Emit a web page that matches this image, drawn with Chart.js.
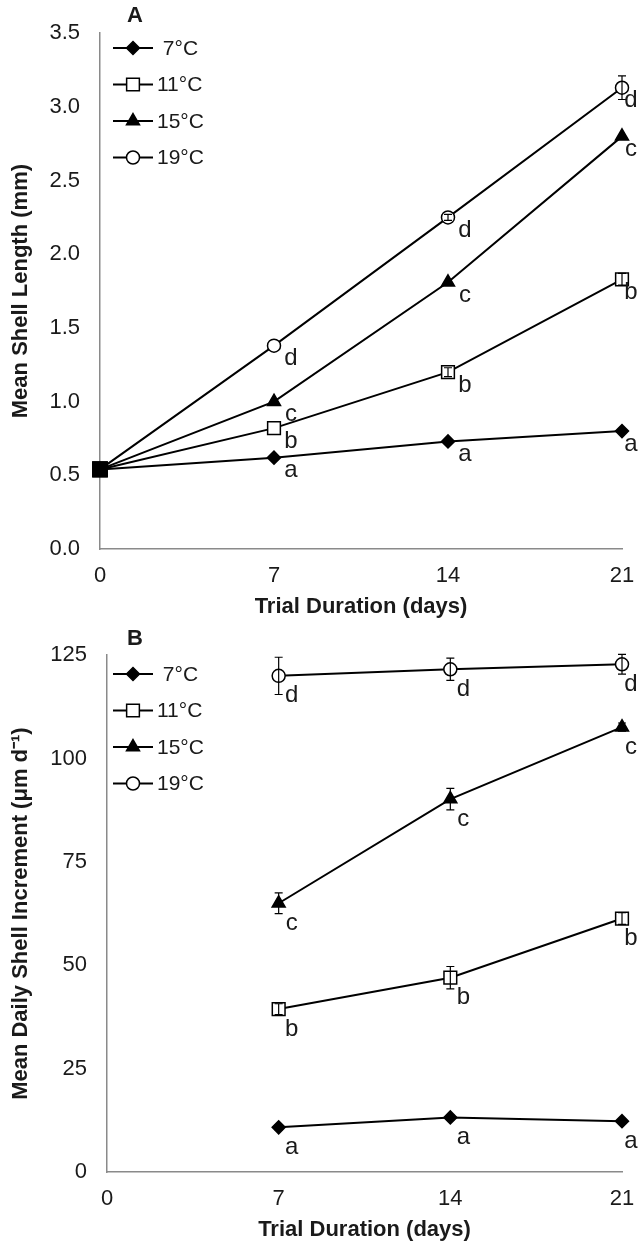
<!DOCTYPE html>
<html lang="en">
<head>
  <meta charset="UTF-8" />
  <title>Shell growth by temperature</title>
  <script src="https://cdn.jsdelivr.net/npm/chart.js"></script>
  <style>
    html, body { margin: 0; padding: 0; background: #fff; }
    canvas { display: block; }
  </style>
</head>
<body>
  <canvas id="lengthChart" width="640" height="622"></canvas>
  <canvas id="incChart" width="640" height="623"></canvas>

  <script>
    // panel A - mean shell length (mm)
    const daysA = [0, 7, 14, 21];
    const lenT7 = [0.54, 0.62, 0.73, 0.80];
    const lenT11 = [0.54, 0.82, 1.20, 1.83];
    const lenT15 = [0.54, 1.00, 1.81, 2.80];
    const lenT19 = [0.54, 1.38, 2.25, 3.13];
    const lenErrT7 = [0, 0, 0, 0];
    const lenErrT11 = [0, 0, 0.03, 0.04];
    const lenErrT15 = [0, 0, 0, 0];
    const lenErrT19 = [0, 0, 0.02, 0.08];
    const lenLetT7 = ['', 'a', 'a', 'a'];
    const lenLetT11 = ['', 'b', 'b', 'b'];
    const lenLetT15 = ['', 'c', 'c', 'c'];
    const lenLetT19 = ['', 'd', 'd', 'd'];
    const lenTicks = [0, 0.5, 1.0, 1.5, 2.0, 2.5, 3.0, 3.5];

    // panel B - mean daily shell increment (um/day)
    const daysB = [7, 14, 21];
    const incT7 = [10.8, 13.2, 12.3];
    const incT11 = [39.4, 47.0, 61.3];
    const incT15 = [65.0, 90.2, 107.6];
    const incT19 = [120.0, 121.6, 122.8];
    const incErrT7 = [0.6, 0.6, 0.5];
    const incErrT11 = [1.3, 2.7, 1.4];
    const incErrT15 = [2.5, 2.6, 1.0];
    const incErrT19 = [4.5, 2.7, 2.4];
    const incLetT7 = ['a', 'a', 'a'];
    const incLetT11 = ['b', 'b', 'b'];
    const incLetT15 = ['c', 'c', 'c'];
    const incLetT19 = ['d', 'd', 'd'];
    const incTicks = [0, 25, 50, 75, 100, 125];

    const seriesNames = [' 7°C', '11°C', '15°C', '19°C'];
    const dayTicks = [0, 7, 14, 21];

    const FONT = "'Liberation Sans', Arial, sans-serif";
    const INK = '#1a1a1a';
    const AXIS = '#8a8a8a';

    // marker look per temperature
    const markers = [
      { style: 'rectRot', radius: 6.5, fill: '#000' },
      { style: 'rect', radius: 9, fill: '#fff' },
      { style: 'triangle', radius: 7.5, fill: '#000' },
      { style: 'circle', radius: 6.5, fill: '#fff' }
    ];

    function pts(xs, ys) {
      return xs.map((x, i) => ({ x, y: ys[i] }));
    }

    function makeDataset(i, xs, ys, errs, letters, firstIsStart) {
      const m = markers[i];
      const n = xs.length;
      const style = [], radius = [], fill = [];
      for (let k = 0; k < n; k++) {
        if (firstIsStart && k === 0) {
          style.push('rect'); radius.push(10); fill.push('#000');
        } else {
          style.push(m.style); radius.push(m.radius); fill.push(m.fill);
        }
      }
      return {
        label: seriesNames[i],
        data: pts(xs, ys),
        errors: errs,
        letters: letters,
        borderColor: '#000',
        borderWidth: 2,
        pointStyle: style,
        pointRadius: radius,
        pointHoverRadius: radius,
        pointBackgroundColor: fill,
        pointBorderColor: '#000',
        pointBorderWidth: 1.5,
        tension: 0,
        clip: false
      };
    }

    function drawMarker(ctx, m, x, y) {
      const r = m.radius;
      ctx.beginPath();
      if (m.style === 'rectRot') {
        ctx.moveTo(x, y - r); ctx.lineTo(x + r, y); ctx.lineTo(x, y + r); ctx.lineTo(x - r, y);
        ctx.closePath();
      } else if (m.style === 'rect') {
        const s = r * Math.SQRT1_2;
        ctx.rect(x - s, y - s, 2 * s, 2 * s);
      } else if (m.style === 'triangle') {
        ctx.moveTo(x, y - r);
        ctx.lineTo(x + r * Math.sin(Math.PI * 2 / 3), y - r * Math.cos(Math.PI * 2 / 3));
        ctx.lineTo(x + r * Math.sin(Math.PI * 4 / 3), y - r * Math.cos(Math.PI * 4 / 3));
        ctx.closePath();
      } else {
        ctx.arc(x, y, r, 0, Math.PI * 2);
      }
      ctx.fillStyle = m.fill;
      ctx.fill();
      ctx.lineWidth = 1.5;
      ctx.strokeStyle = '#000';
      ctx.stroke();
    }

    // error bars, significance letters, legend and panel letter
    const extras = {
      id: 'extras',
      afterDatasetsDraw(chart, args, opts) {
        const ctx = chart.ctx;
        const xs = chart.scales.x, ys = chart.scales.y;
        ctx.save();
        chart.data.datasets.forEach(ds => {
          ds.data.forEach((p, k) => {
            const e = ds.errors[k];
            if (!e) return;
            const px = xs.getPixelForValue(p.x);
            const y1 = ys.getPixelForValue(p.y + e);
            const y2 = ys.getPixelForValue(p.y - e);
            ctx.strokeStyle = '#000';
            ctx.lineWidth = 1.2;
            ctx.beginPath();
            ctx.moveTo(px, y1); ctx.lineTo(px, y2);
            ctx.moveTo(px - 4, y1); ctx.lineTo(px + 4, y1);
            ctx.moveTo(px - 4, y2); ctx.lineTo(px + 4, y2);
            ctx.stroke();
          });
        });

        ctx.font = '24px ' + FONT;
        ctx.fillStyle = INK;
        ctx.textAlign = 'center';
        ctx.textBaseline = 'middle';
        chart.data.datasets.forEach(ds => {
          ds.data.forEach((p, k) => {
            const t = ds.letters[k];
            if (!t) return;
            const px = xs.getPixelForValue(p.x);
            const py = ys.getPixelForValue(p.y);
            // keep letters at the right edge inside the canvas
            const tx = Math.min(px + opts.dx, chart.width - 9);
            ctx.fillText(t, tx, py + opts.dy);
          });
        });

        // panel letter
        ctx.font = 'bold 22px ' + FONT;
        ctx.fillStyle = INK;
        ctx.fillText(opts.panel, opts.legendX + 22, opts.panelY);

        // legend
        ctx.font = '21px ' + FONT;
        ctx.textAlign = 'left';
        chart.data.datasets.forEach((ds, i) => {
          const y = opts.legendY + i * opts.legendGap;
          const x0 = opts.legendX;
          ctx.strokeStyle = '#000';
          ctx.lineWidth = 2;
          ctx.beginPath();
          ctx.moveTo(x0, y); ctx.lineTo(x0 + 40, y);
          ctx.stroke();
          drawMarker(ctx, markers[i], x0 + 20, y);
          ctx.fillStyle = INK;
          ctx.fillText(ds.label, x0 + 44, y + 1);
        });
        ctx.restore();
      }
    };

    function axisOptions(yMin, yMax, yTicks, yTitle, yDecimals, leftWidth) {
      return {
        x: {
          type: 'linear', min: 0, max: 21,
          afterBuildTicks: s => { s.ticks = dayTicks.map(v => ({ value: v })); },
          ticks: { color: INK, font: { family: FONT, size: 22 }, padding: 14 },
          grid: { display: true, drawOnChartArea: false, drawTicks: false },
          border: { color: AXIS, width: 1.5 },
          title: {
            display: true, text: 'Trial Duration (days)', color: INK,
            font: { family: FONT, size: 22, weight: 'bold' },
            padding: { top: 0, bottom: 2 }
          },
          afterFit: s => { s.height = 73; s.paddingLeft = 0; s.paddingRight = 0; }
        },
        y: {
          type: 'linear', min: yMin, max: yMax,
          afterBuildTicks: s => { s.ticks = yTicks.map(v => ({ value: v })); },
          ticks: {
            color: INK, font: { family: FONT, size: 22 }, padding: 20,
            callback: v => v.toFixed(yDecimals)
          },
          grid: { display: true, drawOnChartArea: false, drawTicks: false },
          border: { color: AXIS, width: 1.5 },
          title: {
            display: true, text: yTitle, color: INK,
            font: { family: FONT, size: 22, weight: 'bold' },
            padding: { top: 8, bottom: 0 }
          },
          afterFit: s => { s.width = leftWidth; }
        }
      };
    }

    function baseOptions(scales, extraOpts, topPad) {
      return {
        responsive: false,
        animation: false,
        devicePixelRatio: 1,
        layout: { padding: { left: 0, right: 18, top: topPad, bottom: 0 } },
        plugins: {
          legend: { display: false },
          tooltip: { enabled: false },
          extras: extraOpts
        },
        scales
      };
    }

    new Chart(document.getElementById('lengthChart'), {
      type: 'line',
      data: {
        datasets: [
          makeDataset(0, daysA, lenT7, lenErrT7, lenLetT7, true),
          makeDataset(1, daysA, lenT11, lenErrT11, lenLetT11, true),
          makeDataset(2, daysA, lenT15, lenErrT15, lenLetT15, true),
          makeDataset(3, daysA, lenT19, lenErrT19, lenLetT19, true)
        ]
      },
      options: baseOptions(
        axisOptions(0, 3.5, lenTicks, 'Mean Shell Length (mm)', 1, 100),
        { dx: 17, dy: 13, panel: 'A', panelY: 16, legendX: 113, legendY: 48, legendGap: 36.5 },
        30
      ),
      plugins: [extras]
    });

    new Chart(document.getElementById('incChart'), {
      type: 'line',
      data: {
        datasets: [
          makeDataset(0, daysB, incT7, incErrT7, incLetT7, false),
          makeDataset(1, daysB, incT11, incErrT11, incLetT11, false),
          makeDataset(2, daysB, incT15, incErrT15, incLetT15, false),
          makeDataset(3, daysB, incT19, incErrT19, incLetT19, false)
        ]
      },
      options: baseOptions(
        axisOptions(0, 125, incTicks, 'Mean Daily Shell Increment (μm d⁻¹)', 0, 107),
        { dx: 13, dy: 20, panel: 'B', panelY: 17, legendX: 113, legendY: 52, legendGap: 36.5 },
        32
      ),
      plugins: [extras]
    });
  </script>
</body>
</html>
